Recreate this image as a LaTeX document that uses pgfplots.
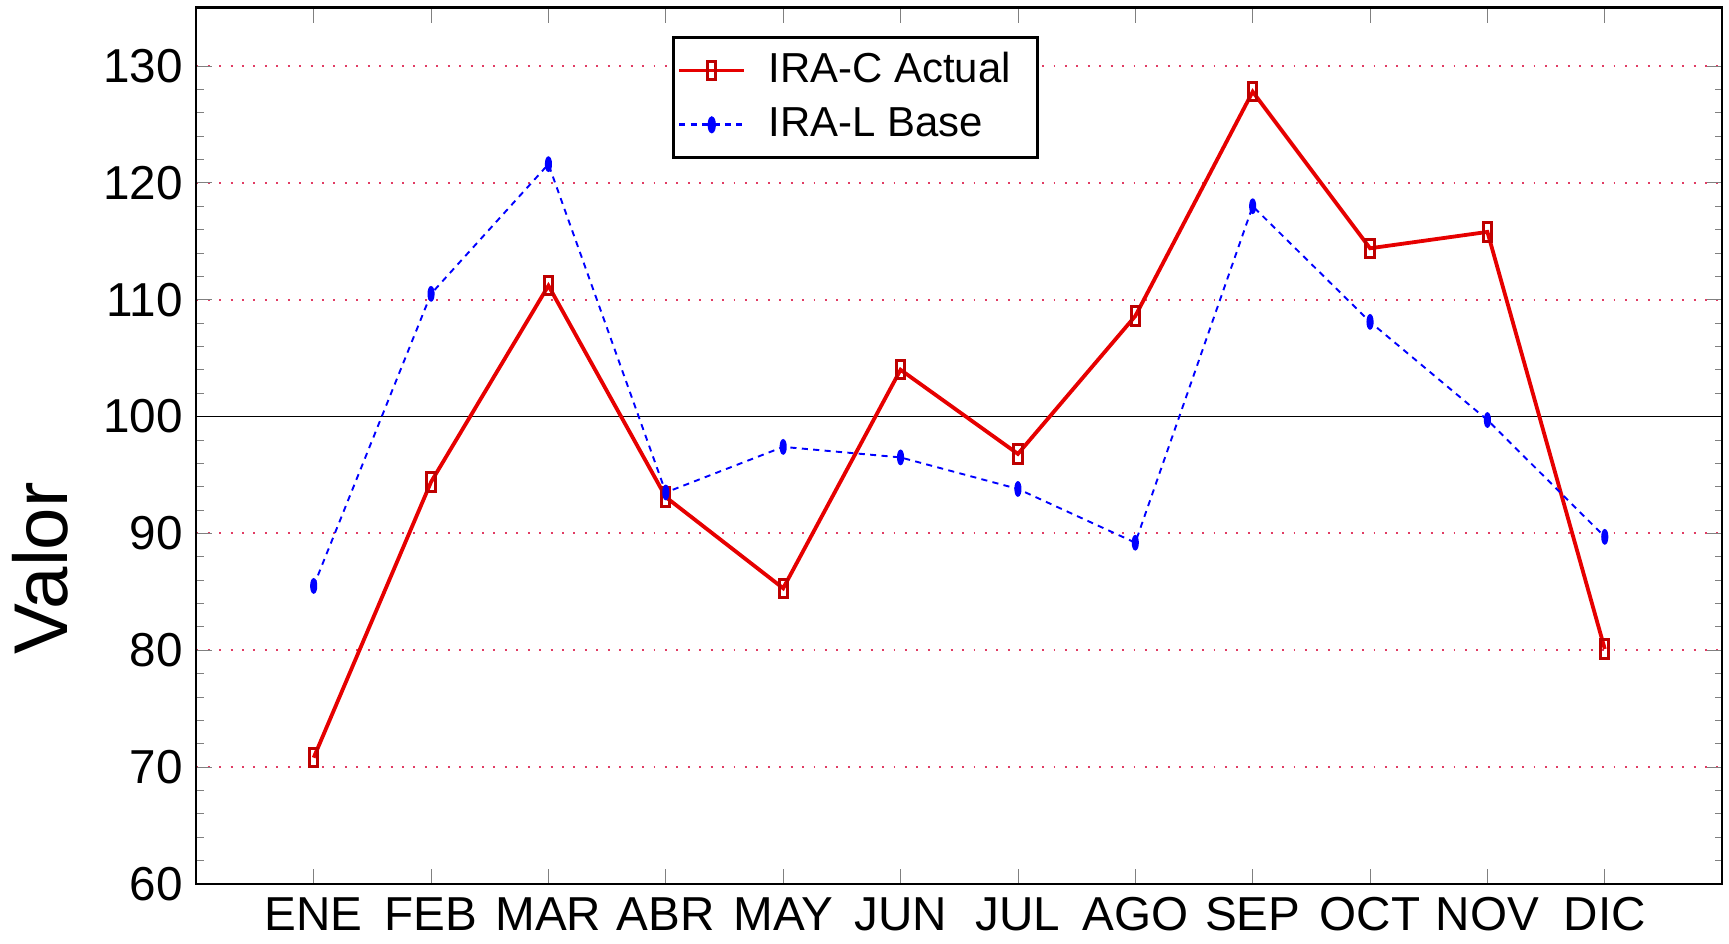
\documentclass[border=0pt]{standalone}
\usepackage{pgfplots}
\pgfplotsset{compat=1.18}
\usepackage{fontspec}
\setmainfont{Liberation Sans}

\definecolor{actred}{RGB}{230,0,0}
\definecolor{markred}{RGB}{190,0,0}
\definecolor{baseblue}{RGB}{0,0,255}
\definecolor{gridpink}{RGB}{225,60,100}

\begin{document}
\begin{tikzpicture}
\begin{axis}[
scale only axis,
width=400.5pt,
height=230pt,
xmin=-1, xmax=12,
ymin=60, ymax=135,
xtick={0,...,11},
xticklabels={ENE,FEB,MAR,ABR,MAY,JUN,JUL,AGO,SEP,OCT,NOV,DIC},
ytick={60,70,...,130},
minor y tick num=4,
tick align=inside,
xtick pos=both,
ytick pos=both,
major tick length=4pt,
minor tick length=2pt,
ymajorgrids,
major grid style={gridpink, dash pattern=on 0.5pt off 2.5pt, line width=0.45pt},
axis line style={black, line width=0.6pt},
/pgf/number format/assume math mode=true,
tick label style={font=\fontsize{12.5}{13}\selectfont},
ylabel={Valor},
ylabel style={font=\fontsize{20}{20}\selectfont, at={(axis description cs:-0.102,0.36)}, anchor=center},
legend style={at={(0.312,0.968)}, anchor=north west, draw=black, line width=0.8pt,
  font=\fontsize{11}{11}\selectfont, inner xsep=1pt, inner ysep=2pt,
  row sep=1pt, legend cell align=left,
  nodes={inner xsep=6pt}},
legend image post style={line width=0.8pt},
clip=false
]
\addplot[forget plot, black, line width=0.5pt] coordinates {(-1,100) (12,100)};

\addplot[actred, line width=1pt, mark=square,
  mark size=2.4pt,
  mark options={solid, draw=markred, fill=white, line width=0.8pt, xscale=0.45}]
coordinates {(0,70.8) (1,94.4) (2,111.2) (3,93.1) (4,85.3) (5,104.0)
  (6,96.8) (7,108.6) (8,127.8) (9,114.4) (10,115.8) (11,80.1)};

\addplot[baseblue, line width=0.5pt, dash pattern=on 1.6pt off 1.4pt, mark=*,
  mark size=1.8pt,
  mark options={solid, fill=baseblue, draw=baseblue, xscale=0.38}]
coordinates {(0,85.5) (1,110.5) (2,121.6) (3,93.5) (4,97.4) (5,96.5)
  (6,93.8) (7,89.2) (8,118.0) (9,108.1) (10,99.7) (11,89.7)};

\legend{IRA-C Actual, IRA-L Base}
\end{axis}
\path (current axis.north east) ++(1.8pt,2pt);
\end{tikzpicture}
\end{document}
